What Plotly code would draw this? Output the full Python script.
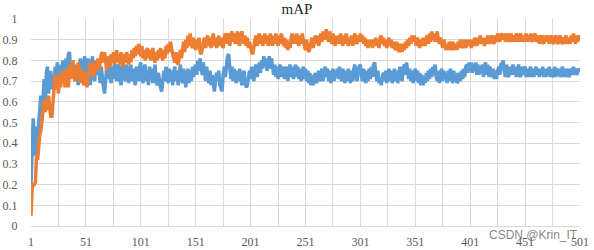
import plotly.graph_objects as go

epochs = list(range(1, 502))

blue_map = [
    0.20,0.46,0.52,0.42,0.34,0.48,0.38,0.50,0.60,0.63,
    0.54,0.66,0.71,0.58,0.74,0.77,0.64,0.72,0.75,0.66,
    0.73,0.68,0.77,0.70,0.79,0.72,0.69,0.78,0.72,0.80,
    0.74,0.71,0.81,0.76,0.83,0.84,0.76,0.72,0.80,0.74,
    0.70,0.78,0.72,0.68,0.76,0.81,0.74,0.70,0.79,0.82,
    0.75,0.71,0.81,0.73,0.68,0.78,0.82,0.72,0.70,0.79,
    0.73,0.80,0.71,0.69,0.77,0.70,0.67,0.64,0.72,0.77,
    0.71,0.78,0.72,0.69,0.77,0.71,0.79,0.72,0.70,0.77,
    0.78,0.71,0.68,0.76,0.79,0.72,0.70,0.78,0.72,0.69,
    0.75,0.78,0.70,0.76,0.71,0.68,0.77,0.72,0.70,0.77,
    0.79,0.71,0.69,0.76,0.78,0.70,0.75,0.68,0.77,0.71,
    0.76,0.69,0.75,0.78,0.70,0.68,0.74,0.69,0.67,0.65,
    0.71,0.75,0.70,0.77,0.72,0.69,0.76,0.70,0.75,0.68,
    0.74,0.77,0.70,0.75,0.68,0.73,0.78,0.72,0.69,0.76,
    0.72,0.67,0.73,0.76,0.69,0.75,0.70,0.77,0.72,0.76,
    0.78,0.73,0.80,0.75,0.81,0.76,0.73,0.79,0.74,0.70,
    0.77,0.71,0.69,0.75,0.68,0.73,0.67,0.65,0.70,0.74,
    0.70,0.75,0.68,0.66,0.65,0.73,0.77,0.72,0.80,0.82,
    0.83,0.76,0.71,0.77,0.70,0.76,0.71,0.69,0.75,0.70,
    0.76,0.71,0.68,0.73,0.75,0.69,0.67,0.68,0.73,0.75,
    0.71,0.77,0.73,0.70,0.76,0.78,0.72,0.77,0.79,0.74,
    0.80,0.76,0.82,0.77,0.81,0.75,0.80,0.82,0.76,0.81,
    0.77,0.73,0.78,0.72,0.77,0.71,0.76,0.78,0.72,0.77,
    0.74,0.71,0.77,0.72,0.70,0.76,0.78,0.72,0.77,0.71,
    0.76,0.78,0.72,0.77,0.71,0.76,0.70,0.75,0.77,0.71,
    0.76,0.70,0.75,0.69,0.74,0.68,0.73,0.68,0.72,0.74,
    0.69,0.73,0.75,0.70,0.74,0.76,0.70,0.75,0.77,0.72,
    0.76,0.70,0.75,0.69,0.74,0.76,0.70,0.75,0.72,0.76,
    0.71,0.77,0.73,0.70,0.76,0.72,0.69,0.75,0.70,0.76,
    0.72,0.69,0.75,0.70,0.76,0.78,0.72,0.70,0.76,0.77,
    0.78,0.72,0.70,0.76,0.71,0.69,0.75,0.70,0.76,0.71,
    0.77,0.72,0.78,0.79,0.74,0.70,0.75,0.69,0.71,0.68,
    0.72,0.74,0.70,0.75,0.69,0.74,0.76,0.70,0.75,0.69,
    0.74,0.76,0.70,0.75,0.69,0.74,0.77,0.72,0.70,0.76,
    0.78,0.73,0.79,0.75,0.71,0.76,0.70,0.75,0.69,0.74,
    0.76,0.70,0.75,0.69,0.74,0.68,0.73,0.68,0.72,0.69,
    0.74,0.70,0.75,0.71,0.76,0.72,0.77,0.73,0.78,0.72,
    0.70,0.75,0.69,0.74,0.76,0.70,0.75,0.71,0.74,0.69,
    0.75,0.70,0.76,0.72,0.69,0.75,0.70,0.74,0.69,0.70,
    0.74,0.70,0.75,0.71,0.76,0.72,0.77,0.78,0.74,0.79,
    0.75,0.79,0.74,0.78,0.75,0.79,0.73,0.78,0.73,0.77,
    0.74,0.78,0.72,0.77,0.79,0.73,0.78,0.72,0.77,0.74,
    0.72,0.76,0.71,0.75,0.71,0.75,0.77,0.73,0.78,0.78,
    0.80,0.75,0.72,0.78,0.73,0.72,0.77,0.73,0.76,0.78,
    0.73,0.77,0.72,0.76,0.78,0.73,0.72,0.77,0.73,0.76,
    0.77,0.72,0.76,0.72,0.76,0.77,0.72,0.76,0.72,0.76,
    0.77,0.73,0.76,0.72,0.76,0.73,0.77,0.72,0.76,0.72,
    0.76,0.73,0.77,0.72,0.76,0.72,0.73,0.77,0.72,0.76,
    0.73,0.76,0.72,0.74,0.77,0.72,0.76,0.72,0.74,0.76,
    0.72,0.74,0.76,0.73,0.77,0.73,0.76,0.73,0.75,0.76,
    0.75,
]

orange_map = [
    0.05,0.18,0.20,0.20,0.21,0.34,0.32,0.40,0.44,0.46,
    0.50,0.57,0.61,0.55,0.61,0.56,0.63,0.57,0.53,0.53,
    0.61,0.66,0.73,0.66,0.71,0.64,0.73,0.67,0.75,0.69,
    0.74,0.67,0.76,0.71,0.67,0.75,0.78,0.71,0.80,0.74,
    0.70,0.77,0.71,0.79,0.73,0.69,0.76,0.71,0.68,0.74,
    0.69,0.67,0.73,0.76,0.79,0.73,0.78,0.72,0.77,0.80,
    0.76,0.81,0.75,0.80,0.83,0.84,0.79,0.84,0.77,0.75,
    0.80,0.82,0.77,0.83,0.79,0.84,0.78,0.82,0.85,0.79,
    0.83,0.78,0.84,0.80,0.77,0.83,0.79,0.84,0.80,0.78,
    0.83,0.79,0.85,0.81,0.86,0.82,0.87,0.83,0.88,0.84,
    0.82,0.87,0.81,0.85,0.80,0.84,0.86,0.81,0.85,0.80,
    0.84,0.86,0.81,0.79,0.84,0.80,0.85,0.81,0.86,0.82,
    0.80,0.85,0.81,0.87,0.83,0.88,0.84,0.89,0.85,0.83,
    0.81,0.79,0.84,0.79,0.78,0.82,0.85,0.81,0.87,0.89,
    0.84,0.90,0.86,0.92,0.87,0.93,0.88,0.86,0.91,0.87,
    0.85,0.90,0.86,0.91,0.84,0.83,0.87,0.89,0.91,0.86,
    0.90,0.92,0.87,0.91,0.86,0.90,0.93,0.87,0.91,0.86,
    0.90,0.92,0.87,0.91,0.88,0.86,0.91,0.93,0.88,0.93,
    0.92,0.87,0.91,0.94,0.89,0.93,0.88,0.92,0.94,0.89,
    0.87,0.92,0.94,0.91,0.88,0.92,0.87,0.91,0.86,0.89,
    0.85,0.84,0.83,0.88,0.90,0.92,0.87,0.91,0.93,0.88,
    0.92,0.87,0.91,0.93,0.88,0.92,0.87,0.91,0.93,0.89,
    0.87,0.92,0.88,0.93,0.89,0.87,0.92,0.88,0.93,0.89,
    0.87,0.91,0.86,0.90,0.85,0.89,0.86,0.91,0.93,0.88,
    0.92,0.88,0.93,0.89,0.87,0.92,0.88,0.93,0.89,0.87,
    0.85,0.90,0.86,0.84,0.86,0.89,0.91,0.86,0.90,0.92,
    0.88,0.92,0.87,0.91,0.93,0.89,0.94,0.90,0.94,0.95,
    0.91,0.89,0.94,0.90,0.88,0.93,0.89,0.87,0.92,0.88,
    0.92,0.88,0.93,0.89,0.87,0.92,0.88,0.93,0.89,0.87,
    0.91,0.88,0.92,0.87,0.91,0.93,0.89,0.88,0.92,0.89,
    0.93,0.89,0.92,0.88,0.91,0.87,0.90,0.86,0.90,0.87,
    0.90,0.86,0.90,0.87,0.91,0.87,0.90,0.86,0.91,0.92,
    0.88,0.91,0.87,0.90,0.86,0.90,0.91,0.87,0.90,0.86,
    0.89,0.86,0.85,0.89,0.85,0.84,0.88,0.85,0.84,0.88,
    0.85,0.89,0.86,0.90,0.87,0.91,0.88,0.92,0.89,0.92,
    0.88,0.87,0.91,0.87,0.86,0.90,0.87,0.91,0.88,0.87,
    0.91,0.92,0.88,0.93,0.89,0.94,0.90,0.93,0.89,0.93,
    0.94,0.90,0.88,0.91,0.87,0.86,0.90,0.87,0.85,0.88,
    0.85,0.89,0.86,0.85,0.89,0.86,0.85,0.88,0.85,0.89,
    0.86,0.90,0.87,0.86,0.90,0.87,0.86,0.90,0.87,0.90,
    0.87,0.86,0.90,0.87,0.91,0.88,0.87,0.91,0.88,0.92,
    0.89,0.88,0.91,0.87,0.91,0.88,0.92,0.89,0.88,0.91,
    0.92,0.89,0.88,0.92,0.89,0.93,0.90,0.89,0.92,0.93,
    0.90,0.93,0.89,0.92,0.93,0.90,0.89,0.93,0.90,0.89,
    0.92,0.89,0.93,0.90,0.89,0.92,0.93,0.89,0.92,0.89,
    0.92,0.93,0.89,0.92,0.89,0.93,0.90,0.89,0.92,0.93,
    0.90,0.89,0.92,0.88,0.91,0.92,0.89,0.88,0.92,0.89,
    0.92,0.89,0.88,0.91,0.92,0.89,0.88,0.91,0.92,0.89,
    0.88,0.91,0.92,0.89,0.88,0.91,0.88,0.92,0.89,0.88,
    0.91,0.88,0.92,0.89,0.93,0.89,0.88,0.92,0.89,0.92,
    0.91,
]

x_tick_vals = list(range(1, 502, 50))
x_tick_text = [str(v) for v in x_tick_vals]
y_tick_vals = [0, 0.1, 0.2, 0.3, 0.4, 0.5, 0.6, 0.7, 0.8, 0.9, 1]
y_tick_text = ["0", "0.1", "0.2", "0.3", "0.4", "0.5", "0.6", "0.7", "0.8", "0.9", "1"]

BLUE = "#5B9BD5"
ORANGE = "#ED7D31"
GRID = "#D9D9D9"
SERIF = "Liberation Serif, Times New Roman, serif"

fig = go.Figure()
fig.add_trace(go.Scatter(x=epochs, y=blue_map, mode="lines",
                         line=dict(color=BLUE, width=3.5), showlegend=False))
fig.add_trace(go.Scatter(x=epochs, y=orange_map, mode="lines",
                         line=dict(color=ORANGE, width=3.5), showlegend=False))

fig.update_layout(
    width=594, height=250,
    margin=dict(l=31, r=14, t=19, b=24, autoexpand=False),
    paper_bgcolor="white", plot_bgcolor="white",
    title=dict(text="mAP", x=0.5, xref="container", xanchor="center",
               y=0.985, yref="container", yanchor="top",
               font=dict(family=SERIF, size=15, color="#262626")),
    font=dict(family=SERIF, size=12, color="#595959"),
)
fig.update_xaxes(
    range=[1, 501], tickmode="array", tickvals=x_tick_vals, ticktext=x_tick_text,
    showgrid=True, gridcolor=GRID, gridwidth=1,
    minor=dict(tick0=1, dtick=25, showgrid=True, gridcolor=GRID, gridwidth=1),
    showline=True, linecolor=GRID, linewidth=1, zeroline=False,
    ticks="outside", ticklen=5, tickcolor="rgba(0,0,0,0)", automargin=False,
    tickfont=dict(family=SERIF, size=12, color="#595959"),
)
fig.update_yaxes(
    range=[0, 1], tickmode="array", tickvals=y_tick_vals, ticktext=y_tick_text,
    showgrid=True, gridcolor=GRID, gridwidth=1, zeroline=False,
    showline=False, ticks="outside", ticklen=10, tickcolor="rgba(0,0,0,0)",
    automargin=False,
    tickfont=dict(family=SERIF, size=12, color="#595959"),
)
fig.add_annotation(
    text="CSDN @Krin_IT", xref="paper", yref="paper", x=1.0, y=-0.045,
    xanchor="right", yanchor="middle", showarrow=False,
    font=dict(family="Liberation Sans, Arial, sans-serif", size=12,
              color="rgba(110,110,110,0.85)"),
)

fig.write_html("out.html")
